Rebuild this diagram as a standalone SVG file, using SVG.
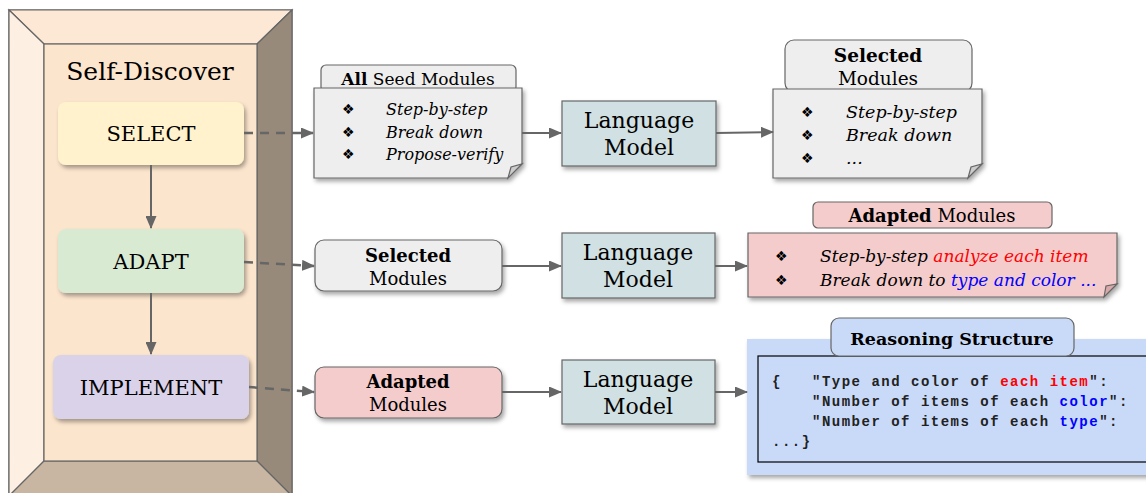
<svg xmlns="http://www.w3.org/2000/svg" width="1146" height="493" viewBox="0 0 1146 493">
<style>
.serif{font-family:"DejaVu Serif","Liberation Serif",serif;fill:#000}
.it{font-family:"DejaVu Serif","Liberation Serif",serif;font-style:italic;fill:#000}
.b{font-weight:bold}
.bul{font-family:"DejaVu Sans","Noto Sans",sans-serif;font-size:14px;fill:#000}
.code{font-family:"Liberation Mono","Courier New",monospace;font-weight:bold;font-size:14px;letter-spacing:1.5px;fill:#222}
.edge{stroke:#666;stroke-width:2;fill:none}
.dash{stroke:#666;stroke-width:2.5;fill:none;stroke-dasharray:9 7}
.bx{stroke:#666;stroke-width:1.2}
.frame{stroke:#666;stroke-width:1.2}
</style>
<defs>
<marker id="ah" markerUnits="userSpaceOnUse" markerWidth="13" markerHeight="11" refX="12" refY="5.5" orient="auto">
<path d="M0,0 L13,5.5 L0,11 z" fill="#666"/>
</marker>
<filter id="sh" x="-10%" y="-10%" width="125%" height="135%">
<feDropShadow dx="2" dy="3" stdDeviation="2" flood-color="#000" flood-opacity="0.35"/>
</filter>
</defs>

<g id="frame">
<rect x="9" y="10" width="283" height="486" fill="#fce5cd" class="frame"/>
<polygon points="9,10 292,10 257,44 44,44" fill="#fce8d4" class="frame"/>
<polygon points="9,10 44,44 44,461 9,496" fill="#fdf0e3" class="frame"/>
<polygon points="292,10 292,496 257,461 257,44" fill="#978a7b" class="frame"/>
<polygon points="9,496 44,461 257,461 292,496" fill="#c8b6a2" class="frame"/>
<rect x="44" y="44" width="213" height="417" fill="#fce5cd" class="frame"/>
<text class="serif" x="150" y="80" font-size="25" text-anchor="middle">Self-Discover</text>
</g>

<g id="select">
<rect x="58" y="102" width="186" height="63" rx="8" fill="#fff2cc" filter="url(#sh)"/>
<text class="serif" x="151" y="141" font-size="21" text-anchor="middle">SELECT</text>
</g>
<g id="adapt">
<rect x="58" y="229" width="186" height="64" rx="8" fill="#d9ead3" filter="url(#sh)"/>
<text class="serif" x="151" y="269" font-size="21" text-anchor="middle">ADAPT</text>
</g>
<g id="implement">
<rect x="53" y="355" width="196" height="64" rx="8" fill="#d9d2e9" filter="url(#sh)"/>
<text class="serif" x="151" y="395" font-size="21" text-anchor="middle">IMPLEMENT</text>
</g>

<g id="all-seed-modules">
<rect x="321" y="65" width="195" height="27" rx="5" fill="#eeeeee" class="bx"/>
<text class="serif" x="418" y="85" font-size="17" text-anchor="middle"><tspan class="b">All</tspan> Seed Modules</text>
<path d="M314,88 H522 V164 L508,178 H314 Z" fill="#eeeeee" class="bx" filter="url(#sh)"/>
<path d="M508,178 L511,167 L522,164 Z" fill="#cccccc" class="bx"/>
<text class="bul" x="342" y="114">❖</text>
<text class="bul" x="342" y="137">❖</text>
<text class="bul" x="342" y="159">❖</text>
<text class="it" x="386" y="115" font-size="16">Step-by-step</text>
<text class="it" x="386" y="138" font-size="16">Break down</text>
<text class="it" x="386" y="160" font-size="16">Propose-verify</text>
</g>

<g id="lm1">
<rect x="562" y="101" width="154" height="65" fill="#d0e0e3" class="bx" filter="url(#sh)"/>
<text class="serif" x="639" y="128" font-size="22" text-anchor="middle">Language</text>
<text class="serif" x="639" y="155" font-size="22" text-anchor="middle">Model</text>
</g>

<g id="selected-modules-out">
<rect x="785" y="40" width="187" height="52" rx="9" fill="#eeeeee" class="bx"/>
<text class="serif b" x="878" y="62" font-size="18.5" text-anchor="middle">Selected</text>
<text class="serif" x="878" y="85" font-size="18.5" text-anchor="middle">Modules</text>
<path d="M773,89 H982 V164 L968,178 H773 Z" fill="#eeeeee" class="bx" filter="url(#sh)"/>
<path d="M968,178 L971,167 L982,164 Z" fill="#cccccc" class="bx"/>
<text class="bul" x="801" y="117">❖</text>
<text class="bul" x="801" y="140">❖</text>
<text class="bul" x="801" y="163">❖</text>
<text class="it" x="846" y="118" font-size="17.5">Step-by-step</text>
<text class="it" x="846" y="141" font-size="17.5">Break down</text>
<text class="it" x="846" y="164" font-size="17.5">...</text>
</g>

<g id="selected-modules-in">
<rect x="315" y="240" width="187" height="51" rx="9" fill="#eeeeee" class="bx" filter="url(#sh)"/>
<text class="serif b" x="408" y="262" font-size="18" text-anchor="middle">Selected</text>
<text class="serif" x="408" y="285" font-size="18" text-anchor="middle">Modules</text>
</g>

<g id="lm2">
<rect x="562" y="233" width="153" height="65" fill="#d0e0e3" class="bx" filter="url(#sh)"/>
<text class="serif" x="638" y="260" font-size="22" text-anchor="middle">Language</text>
<text class="serif" x="638" y="287" font-size="22" text-anchor="middle">Model</text>
</g>

<g id="adapted-modules-out">
<rect x="813" y="202" width="239" height="26" rx="5" fill="#f4cccc" class="bx"/>
<text class="serif" x="932" y="222" font-size="18" text-anchor="middle"><tspan class="b">Adapted</tspan>  Modules</text>
<path d="M748,233 H1117 V284 L1104,297 H748 Z" fill="#f4cccc" class="bx" filter="url(#sh)"/>
<path d="M1104,297 L1106,286 L1117,284 Z" fill="#d9a9a9" class="bx"/>
<text class="bul" x="775" y="261">❖</text>
<text class="bul" x="775" y="285">❖</text>
<text class="it" x="820" y="262" font-size="17">Step-by-step <tspan fill="#ff0000">analyze each item</tspan></text>
<text class="it" x="820" y="286" font-size="17">Break down to <tspan fill="#0000ff">type and color ...</tspan></text>
</g>

<g id="adapted-modules-in">
<rect x="315" y="367" width="187" height="51" rx="9" fill="#f4cccc" class="bx" filter="url(#sh)"/>
<text class="serif b" x="408" y="388" font-size="18" text-anchor="middle">Adapted</text>
<text class="serif" x="408" y="411" font-size="18" text-anchor="middle">Modules</text>
</g>

<g id="lm3">
<rect x="562" y="360" width="153" height="64" fill="#d0e0e3" class="bx" filter="url(#sh)"/>
<text class="serif" x="638" y="387" font-size="22" text-anchor="middle">Language</text>
<text class="serif" x="638" y="414" font-size="22" text-anchor="middle">Model</text>
</g>

<g id="reasoning-structure">
<rect x="747" y="339" width="410" height="136" fill="#c9daf8" filter="url(#sh)"/>
<rect x="758" y="356" width="400" height="106" fill="none" stroke="#000" stroke-width="1.2"/>
<rect x="831" y="318" width="243" height="38" rx="8" fill="#c9daf8" class="bx"/>
<text class="serif b" x="952" y="345" font-size="17.5" text-anchor="middle">Reasoning Structure</text>
<text class="code" x="772" y="386">{</text>
<text class="code" x="812" y="386">"Type and color of <tspan fill="#ff0000">each item</tspan>":</text>
<text class="code" x="812" y="406">"Number of items of each <tspan fill="#0000ff">color</tspan>":</text>
<text class="code" x="812" y="426">"Number of items of each <tspan fill="#0000ff">type</tspan>":</text>
<text class="code" x="772" y="446">...}</text>
</g>

<g id="connectors">
<line class="edge" x1="151" y1="165" x2="151" y2="228" marker-end="url(#ah)"/>
<line class="edge" x1="151" y1="293" x2="151" y2="354" marker-end="url(#ah)"/>
<line class="dash" x1="244" y1="133" x2="313" y2="133" marker-end="url(#ah)"/>
<line class="dash" x1="244" y1="262" x2="314" y2="266" marker-end="url(#ah)"/>
<line class="dash" x1="249" y1="387" x2="314" y2="392" marker-end="url(#ah)"/>
<line class="edge" x1="522" y1="133" x2="561" y2="133" marker-end="url(#ah)"/>
<line class="edge" x1="716" y1="133" x2="773" y2="132" marker-end="url(#ah)"/>
<line class="edge" x1="502" y1="266" x2="561" y2="266" marker-end="url(#ah)"/>
<line class="edge" x1="715" y1="266" x2="747" y2="266" marker-end="url(#ah)"/>
<line class="edge" x1="502" y1="392" x2="561" y2="392" marker-end="url(#ah)"/>
<line class="edge" x1="715" y1="392" x2="747" y2="392" marker-end="url(#ah)"/>
</g>
</svg>
